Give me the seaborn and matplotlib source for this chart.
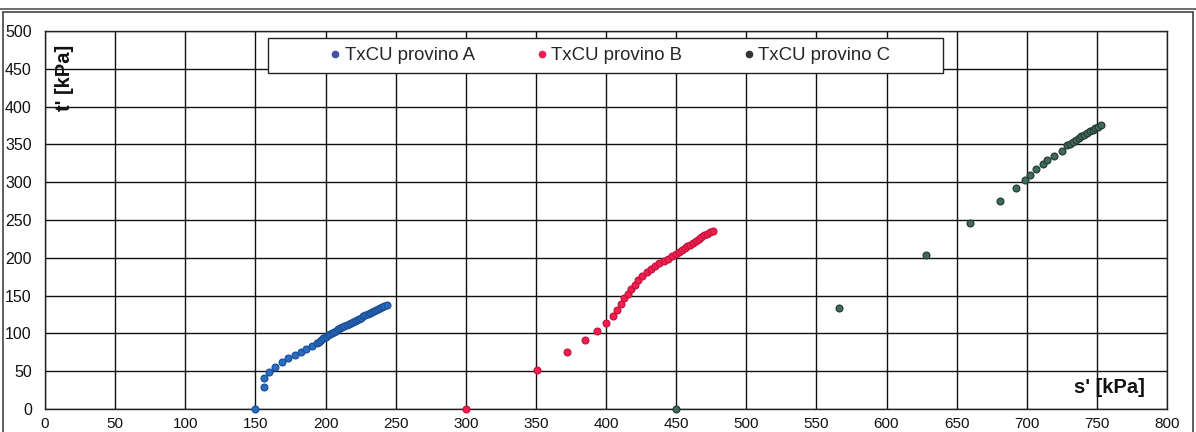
import matplotlib
matplotlib.use("Agg")
import matplotlib.pyplot as plt
from matplotlib.patches import Rectangle
from matplotlib.lines import Line2D
from matplotlib.ticker import MultipleLocator
import seaborn as sns
import pandas as pd

# ---------------- data ----------------
s_A = [150, 155.8, 156, 159.8, 163.9, 169.2, 173.5, 178.3, 182.3, 186.1, 190.2, 194,
       195.5, 197, 198.5, 200, 201.5, 203, 204.5, 206, 207.5, 209, 210.5, 212, 213.5,
       215, 216.5, 218, 219.5, 221, 222.5, 224, 225.5, 227, 228.5, 230, 231.5, 233,
       234.5, 236, 237.5, 239, 240.5, 242, 243.5]
t_A = [0, 29.4, 41.5, 49, 55.8, 62.4, 67.3, 71.8, 75.8, 79.4, 83.4, 87,
       89.2, 91.4, 93.5, 95.5, 97.3, 99.0, 100.6, 102.2, 103.7, 105.2, 106.7, 108.2, 109.7,
       111.1, 112.6, 114.0, 115.4, 116.8, 118.2, 119.6, 121.0, 122.4, 123.8, 125.2, 126.6, 128.0,
       129.4, 130.8, 132.1, 133.5, 134.9, 136.2, 137.6]

s_B = [300, 350.7, 372, 385.3, 393.8, 400, 405.2, 407.6, 410.5, 413, 415.5, 418, 420.5,
       423, 426, 429, 432, 435, 438, 441, 444, 447, 450, 452, 454, 456, 458, 460, 462,
       464, 466, 468, 470, 472, 474, 476]
t_B = [0, 52.2, 75, 91, 103.5, 113.7, 123.5, 130.5, 139, 146.5, 152.5, 159, 164.5,
       170.5, 176.5, 181.5, 185.5, 189, 192.5, 195.5, 198.5, 202, 205, 207.5, 210, 212.5,
       215, 217.5, 220, 222.5, 225, 227, 229.5, 231.5, 233.5, 235.5]

s_C = [450, 566, 628.4, 659.5, 681, 692.3, 698.5, 702, 706.8, 711.4, 714.7, 719.3, 725,
       729, 731, 733, 735, 737, 739, 741, 743, 745, 747, 749, 751, 753]
t_C = [0, 133, 203.5, 245.9, 275, 292.2, 302.8, 309.8, 316.9, 323.5, 328.8, 334.5, 341,
       348.6, 351, 353.5, 356, 358.5, 361, 363, 365.5, 367.5, 369.5, 371.5, 373.5, 376]

series_names = ["TxCU provino A", "TxCU provino B", "TxCU provino C"]
x_label = "s' [kPa]"
y_label = "t' [kPa]"

# ---------------- styling ----------------
sns.set_style("white")
plt.rcParams["font.family"] = ["Liberation Sans", "DejaVu Sans"]

fills = {"TxCU provino A": "#2a6cc0", "TxCU provino B": "#f0204c", "TxCU provino C": "#3d6b5c"}
edges = {"TxCU provino A": "#1b4f98", "TxCU provino B": "#c8123f", "TxCU provino C": "#2a3a34"}
legend_cols = {"TxCU provino A": "#3f51a8", "TxCU provino B": "#f0204c", "TxCU provino C": "#333333"}

df = pd.concat([
    pd.DataFrame({"s": s_A, "t": t_A, "serie": series_names[0]}),
    pd.DataFrame({"s": s_B, "t": t_B, "serie": series_names[1]}),
    pd.DataFrame({"s": s_C, "t": t_C, "serie": series_names[2]}),
], ignore_index=True)

fig = plt.figure(figsize=(11.96, 4.32), dpi=100)
ax = fig.add_axes([45 / 1196, 1 - 409 / 432, 1122 / 1196, 378 / 432])

for name in series_names:
    sub = df[df["serie"] == name]
    sns.scatterplot(data=sub, x="s", y="t", ax=ax, color=fills[name],
                    edgecolor=edges[name], linewidth=0.9, s=24, zorder=5,
                    legend=False, clip_on=False)

ax.set_xlim(0, 800)
ax.set_ylim(0, 500)
ax.xaxis.set_major_locator(MultipleLocator(50))
ax.yaxis.set_major_locator(MultipleLocator(50))
ax.xaxis.set_minor_locator(MultipleLocator(10))
ax.yaxis.set_minor_locator(MultipleLocator(10))
ax.grid(True, which="major", color="#111111", linewidth=1.0)
ax.set_axisbelow(True)
for sp in ax.spines.values():
    sp.set_color("#222222")
    sp.set_linewidth(1.0)
    sp.set_visible(True)
ax.tick_params(axis="both", which="major", direction="out", length=4.5, width=1,
               color="#222222", labelcolor="#111111")
ax.tick_params(axis="x", which="major", labelsize=11, pad=1.5)
ax.tick_params(axis="y", which="major", labelsize=11.5, pad=5)
ax.tick_params(axis="both", which="minor", direction="out", length=3.2, width=0.9,
               color="#222222")
ax.set_xlabel("")
ax.set_ylabel("")

ax.text(0.017, 0.876, y_label, transform=ax.transAxes, rotation=90,
        ha="center", va="center", fontsize=14.5, fontweight="bold", color="#111111")
ax.text(0.949, 0.0556, x_label, transform=ax.transAxes,
        ha="center", va="center", fontsize=14.5, fontweight="bold", color="#111111")

# legend box
ax.add_patch(Rectangle((0.1988, 0.889), 0.6016, 0.0925, transform=ax.transAxes,
                       facecolor="white", edgecolor="#222222", linewidth=1.0, zorder=6))
handles = [Line2D([0], [0], marker="o", linestyle="none", markersize=4.5,
                  markerfacecolor=legend_cols[n], markeredgecolor=legend_cols[n], label=n)
           for n in series_names]
leg = ax.legend(handles=handles, loc="center", bbox_to_anchor=(0.5045, 0.935),
                ncol=3, frameon=False, fontsize=13.4, handlelength=0.4,
                handletextpad=0.3, columnspacing=3.4, borderpad=0.2)
leg.set_zorder(7)

# outer frame (left, top, right edges only; bottom runs off the picture)
fx0, fx1 = 3 / 1196, 1193 / 1196
fy0, fy1 = 0.0, 1 - 12 / 432
for xs, ys in [([fx0, fx0], [fy0, fy1]), ([fx0, fx1], [fy1, fy1]), ([fx1, fx1], [fy0, fy1])]:
    fig.add_artist(Line2D(xs, ys, transform=fig.transFigure, color="#444444", linewidth=1.2))
fig.add_artist(Line2D([0, 1], [1 - 9 / 432, 1 - 9 / 432], transform=fig.transFigure,
                      color="#555555", linewidth=1.2))

fig.savefig("out.png", dpi=100)
